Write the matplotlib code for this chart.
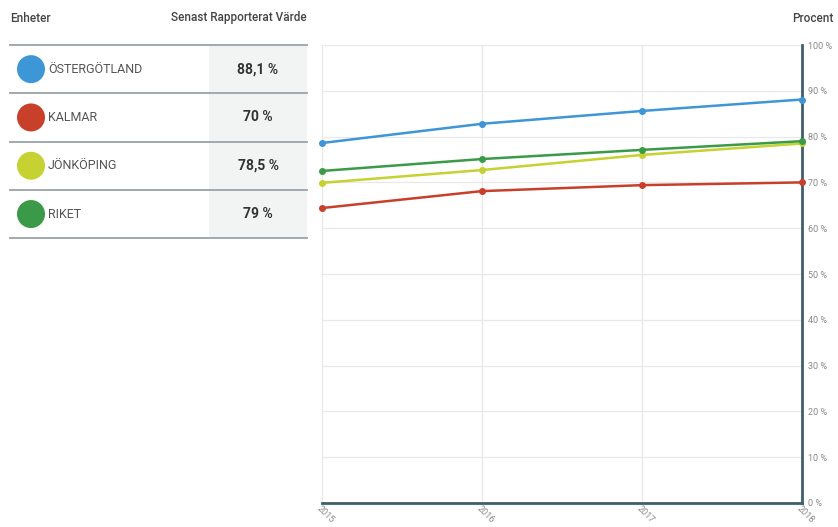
import matplotlib
matplotlib.use("Agg")
import matplotlib.pyplot as plt
from matplotlib.patches import Rectangle, Circle

plt.rcParams['font.family'] = ['Roboto', 'DejaVu Sans']

years = [2015, 2016, 2017, 2018]
units = ["ÖSTERGÖTLAND", "KALMAR", "JÖNKÖPING", "RIKET"]
latest_labels = ["88,1 %", "70 %", "78,5 %", "79 %"]
ostergotland = [78.6, 82.8, 85.6, 88.1]
kalmar = [64.4, 68.1, 69.4, 70.0]
jonkoping = [69.9, 72.7, 76.0, 78.5]
riket = [72.5, 75.1, 77.1, 79.0]
colors = ["#3d96d6", "#c8402a", "#c6d132", "#3b9a48"]
yticks = [0, 10, 20, 30, 40, 50, 60, 70, 80, 90, 100]

W, H = 838, 527
fig = plt.figure(figsize=(W / 100, H / 100), dpi=100)

# overlay axes in pixel coordinates for the table
ov = fig.add_axes([0, 0, 1, 1])
ov.set_xlim(0, W)
ov.set_ylim(H, 0)
ov.axis("off")

text_col = "#444444"
ov.text(10, 18, "Enheter", fontsize=8.5, color=text_col, va="center", ha="left",
        fontweight="medium")
ov.text(307, 18, "Senast Rapporterat Värde", fontsize=8.5, color=text_col,
        va="center", ha="right", fontweight="medium")

row_top = 45
row_h = 48.3
ov.add_patch(Rectangle((209, row_top), 98, row_h * 4, facecolor="#f2f3f3",
                       edgecolor="none", zorder=0))
for i in range(5):
    y = row_top + i * row_h
    ov.plot([10, 307], [y, y], color="#9aa3a6", lw=1.3, zorder=1)
series = [ostergotland, kalmar, jonkoping, riket]
for i, (name, lab, c) in enumerate(zip(units, latest_labels, colors)):
    yc = row_top + (i + 0.5) * row_h
    ov.add_patch(Circle((31, yc), 14, facecolor=c, edgecolor="none", zorder=2))
    ov.text(48, yc, name, fontsize=9, color="#555555", va="center", ha="left")
    ov.text(258, yc, lab, fontsize=10, color="#333333", va="center",
            ha="center", fontweight="bold")

ov.text(813, 18, "Procent", fontsize=8.5, color=text_col, va="center", ha="center",
        fontweight="medium")

# main chart
ax = fig.add_axes([322 / W, 1 - 503 / H, (802 - 322) / W, (503 - 45) / H])
for s, c in zip(series, colors):
    ax.plot(years, s, color=c, lw=1.8, marker="o", markersize=4, zorder=3,
            clip_on=False)
ax.set_xlim(2015, 2018)
ax.set_ylim(0, 100)
ax.set_yticks(yticks)
ax.set_yticklabels([f"{v} %" for v in yticks])
ax.set_xticks(years)
ax.set_xticklabels([str(y) for y in years], rotation=-45, ha="left",
                   rotation_mode="anchor")
ax.yaxis.tick_right()
ax.tick_params(axis="y", length=0, pad=4, labelsize=6.5, labelcolor="#888888")
ax.tick_params(axis="x", length=0, pad=1, labelsize=6.5, labelcolor="#888888")
ax.grid(True, color="#e8e8e8", lw=0.9)
ax.set_axisbelow(True)
for sp in ["left", "top"]:
    ax.spines[sp].set_visible(False)
for sp in ["right", "bottom"]:
    ax.spines[sp].set_color("#3f5f6b")
    ax.spines[sp].set_linewidth(2.0)
ax.patch.set_alpha(0)

fig.savefig("out.png", dpi=100)
